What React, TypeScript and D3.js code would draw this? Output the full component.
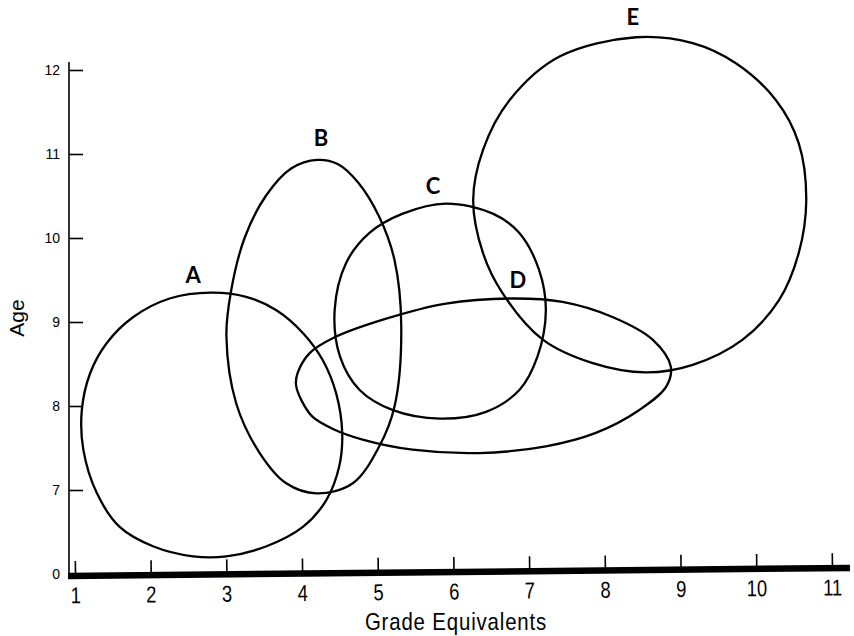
import React, { useEffect, useRef } from 'react';
import * as d3 from 'd3';

// tick values on both axes
const gradeTicks = [1, 2, 3, 4, 5, 6, 7, 8, 9, 10, 11];
const ageTicks = [6, 7, 8, 9, 10, 11, 12];
// the bottom age tick is printed as "0" (broken axis)
const ageTickLabels = ['0', '7', '8', '9', '10', '11', '12'];

// outlines of each group as [grade, age]
const groupA = [
  [2.8, 9.35], [3.26, 9.3], [3.66, 9.14], [4.01, 8.87], [4.27, 8.55], [4.45, 8.15],
  [4.53, 7.68], [4.49, 7.28], [4.32, 6.88], [4.01, 6.56], [3.53, 6.33], [3.0, 6.21],
  [2.56, 6.21], [2.03, 6.33], [1.59, 6.56], [1.29, 6.96], [1.11, 7.48], [1.09, 7.95],
  [1.2, 8.39], [1.42, 8.75], [1.77, 9.06], [2.25, 9.28],
];
const groupB = [
  [4.2, 10.93], [4.47, 10.88], [4.74, 10.66], [5.02, 10.25], [5.22, 9.74], [5.31, 8.94],
  [5.22, 7.99], [5.02, 7.52], [4.67, 7.08], [4.19, 6.96], [3.79, 7.08], [3.44, 7.44],
  [3.13, 8.03], [3.0, 8.83], [3.06, 9.36], [3.24, 10.0], [3.52, 10.5], [3.86, 10.83],
];
const groupC = [
  [5.9, 10.41], [6.52, 10.29], [6.87, 10.06], [7.13, 9.62], [7.22, 9.14], [7.11, 8.59],
  [6.87, 8.19], [6.43, 7.93], [5.82, 7.85], [5.2, 7.95], [4.76, 8.19], [4.5, 8.59],
  [4.43, 9.14], [4.58, 9.7], [4.89, 10.06], [5.33, 10.29],
];
const groupD = [
  [3.92, 8.25], [3.94, 8.39], [4.1, 8.63], [4.41, 8.81], [5.11, 9.04], [5.9, 9.22],
  [6.78, 9.28], [7.44, 9.24], [8.1, 9.06], [8.63, 8.79], [8.87, 8.47], [8.81, 8.23],
  [8.45, 7.95], [7.88, 7.68], [7.22, 7.52], [6.34, 7.44], [5.46, 7.48], [4.8, 7.6],
  [4.4, 7.73], [4.14, 7.87], [3.99, 8.07],
];
const groupE = [
  [8.41, 12.39], [9.16, 12.32], [9.73, 12.08], [10.26, 11.64], [10.56, 11.13], [10.66, 10.45],
  [10.56, 9.82], [10.3, 9.26], [9.82, 8.79], [9.16, 8.49], [8.54, 8.4], [7.84, 8.51],
  [7.18, 8.79], [6.65, 9.34], [6.39, 9.82], [6.26, 10.45], [6.39, 11.05], [6.74, 11.64],
  [7.4, 12.16],
];
const groupNames = ['A', 'B', 'C', 'D', 'E'];
// where each letter sits, [grade, age] of its baseline centre
const labelPositions = [[2.56, 9.46], [4.25, 11.09], [5.73, 10.52], [6.85, 9.4], [8.37, 12.54]];

const narrowFont = '"Liberation Sans", Arial, sans-serif';

const App = () => {
  const svgRef = useRef<SVGSVGElement>(null);

  const width = 854;
  const height = 636;
  const axisX = 69; // where the age axis stands
  const axisY = 576; // where the grade axis lies (left end)

  useEffect(() => {
    const svg = d3.select(svgRef.current);
    svg.selectAll('*').remove();

    const x = d3.scaleLinear().domain([1, 11]).range([75, 832]);
    const y = d3.scaleLinear().domain([6, 12]).range([574, 70]);

    // age axis (ticks point inward)
    const yAxis = d3
      .axisLeft(y)
      .tickValues(ageTicks)
      .tickFormat((d, i) => ageTickLabels[i])
      .tickSizeInner(-14)
      .tickSizeOuter(0)
      .tickPadding(9);

    const gy = svg.append('g').attr('transform', `translate(${axisX},0)`).call(yAxis);
    gy.select('.domain').remove();
    gy.selectAll('line').attr('stroke', '#000').attr('stroke-width', 1.6);
    gy.selectAll('text')
      .attr('font-family', '"Liberation Sans", Arial, sans-serif')
      .attr('font-size', 14)
      .attr('fill', '#000');
    gy.append('line')
      .attr('x1', 0)
      .attr('x2', 0)
      .attr('y1', 62)
      .attr('y2', axisY)
      .attr('stroke', '#000')
      .attr('stroke-width', 1.6);

    // grade axis, a heavy line drawn slightly off level
    const xAxis = d3
      .axisBottom(x)
      .tickValues(gradeTicks)
      .tickFormat(d3.format('d'))
      .tickSizeInner(-15)
      .tickSizeOuter(0)
      .tickPadding(11);

    const gx = svg
      .append('g')
      .attr('transform', `translate(0,${axisY}) rotate(-0.59, ${axisX}, 0)`)
      .call(xAxis);
    gx.select('.domain').remove();
    gx.selectAll('line').attr('stroke', '#000').attr('stroke-width', 1.6);
    // condensed look: squeeze the glyphs sideways
    gx.selectAll('text')
      .attr('font-family', narrowFont)
      .attr('font-size', 23)
      .attr('transform', 'scale(0.8,1)')
      .attr('fill', '#000');
    gx.append('line')
      .attr('x1', axisX - 1)
      .attr('x2', 850)
      .attr('y1', 0)
      .attr('y2', 0)
      .attr('stroke', '#000')
      .attr('stroke-width', 6.5);

    // axis titles
    svg
      .append('g')
      .attr('transform', 'translate(456,630) scale(0.85,1)')
      .append('text')
      .attr('text-anchor', 'middle')
      .attr('font-family', narrowFont)
      .attr('font-size', 24)
      .attr('letter-spacing', 1)
      .text('Grade Equivalents');

    svg
      .append('text')
      .attr('transform', 'translate(24,318) rotate(-90)')
      .attr('text-anchor', 'middle')
      .attr('font-family', '"Liberation Sans", Arial, sans-serif')
      .attr('font-size', 21)
      .text('Age');

    // the five outlines
    const line = d3
      .line<number[]>()
      .x((d) => x(d[0]))
      .y((d) => y(d[1]))
      .curve(d3.curveCatmullRomClosed.alpha(0.5));

    svg
      .append('g')
      .selectAll('path')
      .data([groupA, groupB, groupC, groupD, groupE])
      .enter()
      .append('path')
      .attr('d', (d) => line(d))
      .attr('fill', 'none')
      .attr('stroke', '#000')
      .attr('stroke-width', 2.3)
      .attr('stroke-linejoin', 'round');

    svg
      .append('g')
      .selectAll('text')
      .data(groupNames)
      .enter()
      .append('text')
      .attr('x', (d, i) => x(labelPositions[i][0]))
      .attr('y', (d, i) => y(labelPositions[i][1]))
      .attr('text-anchor', 'middle')
      .attr('font-family', 'Lato, "Liberation Sans", sans-serif')
      .attr('font-weight', 'bold')
      .attr('font-size', 22)
      .text((d) => d);
  }, []);

  return (
    <svg
      ref={svgRef}
      width={width}
      height={height}
      style={{ position: 'absolute', left: 0, top: 0, background: '#fff' }}
    ></svg>
  );
};

export default App;
